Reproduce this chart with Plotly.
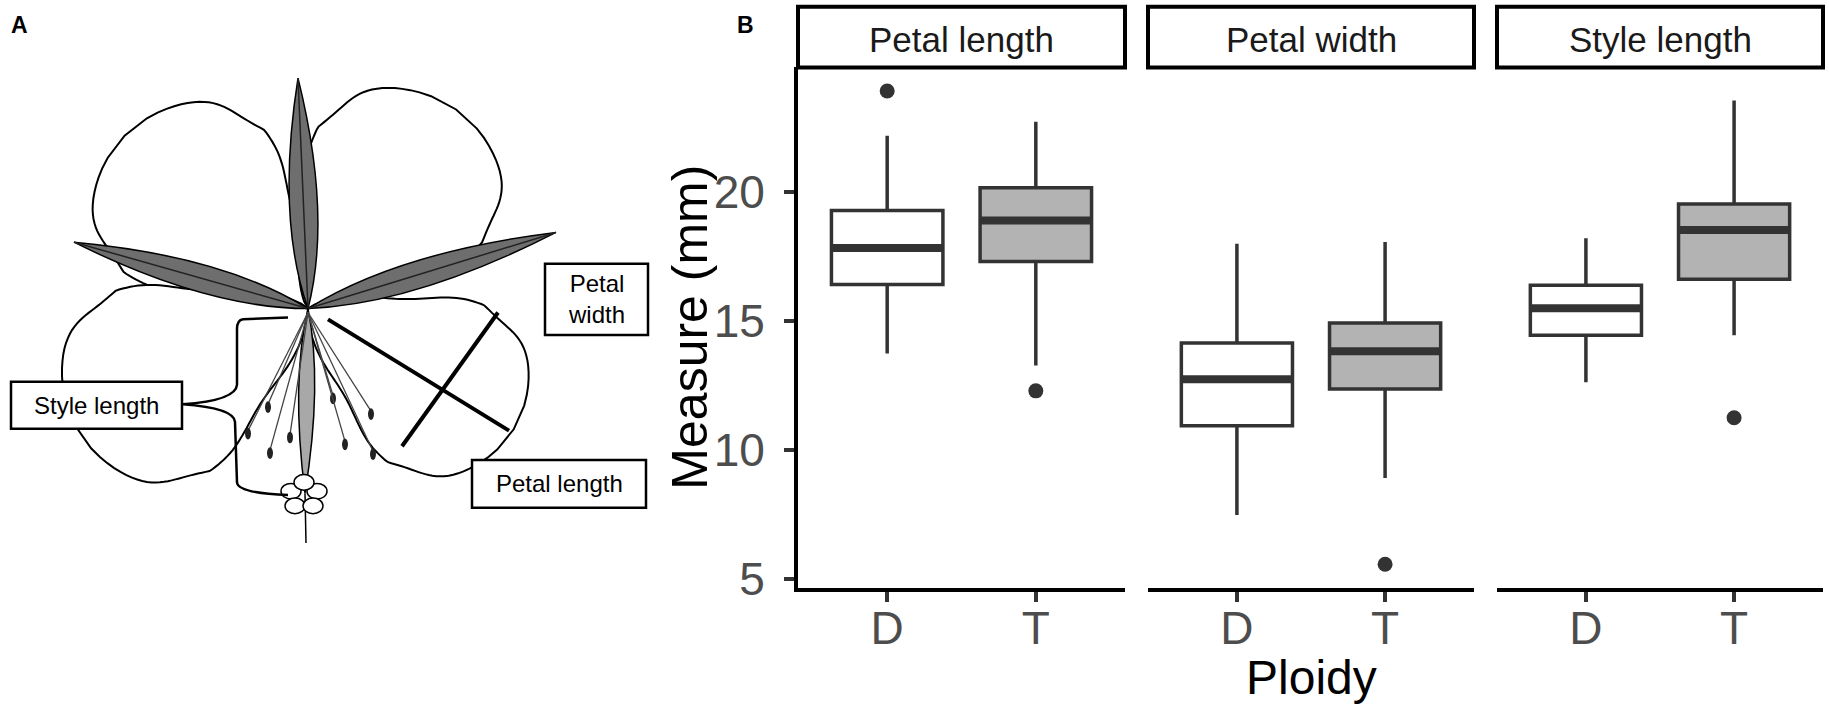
import numpy as np
import plotly.graph_objects as go

W, H = 1829, 725

traits = ["Petal length", "Petal width", "Style length"]
ploidy = ["D", "T"]

# box statistics per trait, [D, T]
lower_whisker = [[13.75, 13.28], [7.49, 8.92], [12.63, 14.45]]
q1 = [[16.42, 17.31], [10.95, 12.37], [14.45, 16.63]]
median = [[17.84, 18.90], [12.75, 13.83], [15.50, 18.53]]
q3 = [[19.29, 20.17], [14.15, 14.93], [16.39, 19.54]]
upper_whisker = [[22.19, 22.73], [18.00, 18.07], [18.21, 23.55]]

outlier_trait = ["Petal length", "Petal length", "Petal width", "Style length"]
outlier_ploidy = ["D", "T", "T", "T"]
outlier_value = [23.92, 12.30, 5.58, 11.26]

y_ticks = [5, 10, 15, 20]

box_fill = {"D": "white", "T": "#B3B3B3"}
dark = "#333333"
font = "Liberation Sans, Arial, sans-serif"

# panel B geometry in pixels
panel_px = [(798, 1125), (1148, 1474), (1497, 1823)]
plot_top, plot_bottom = 69, 602
strip_top = 7
box_w = 0.75


def px(x):
    return x / W


def py(y):
    return 1 - y / H


def note(x, y, text, size, color="black", ref=("paper", "paper"), **kw):
    return dict(x=x, y=y, xref=ref[0], yref=ref[1], text=text, showarrow=False,
                xanchor="center", yanchor="middle",
                font=dict(size=size, color=color, family=font), **kw)


fig = go.Figure()

all_vals = [v for grp in (lower_whisker, upper_whisker) for row in grp for v in row] + outlier_value
span = max(all_vals) - min(all_vals)
y_range = [min(all_vals) - 0.05 * span, max(all_vals) + 0.05 * span]

for i, trait in enumerate(traits):
    xa = "x" if i == 0 else f"x{i + 1}"
    for j, p in enumerate(ploidy):
        pos = j + 1
        fig.add_trace(go.Box(
            x=[pos], q1=[q1[i][j]], median=[median[i][j]], q3=[q3[i][j]],
            lowerfence=[lower_whisker[i][j]], upperfence=[upper_whisker[i][j]],
            width=box_w, fillcolor=box_fill[p], line=dict(color=dark, width=3.5),
            whiskerwidth=0, boxpoints=False, xaxis=xa, yaxis="y",
            showlegend=False, hoverinfo="skip",
        ))
        fig.add_trace(go.Scatter(
            x=[pos - box_w / 2, pos + box_w / 2], y=[median[i][j]] * 2,
            mode="lines", line=dict(color=dark, width=8),
            xaxis=xa, yaxis="y", showlegend=False, hoverinfo="skip",
        ))
    ox = [ploidy.index(p) + 1 for t, p in zip(outlier_trait, outlier_ploidy) if t == trait]
    oy = [v for t, v in zip(outlier_trait, outlier_value) if t == trait]
    fig.add_trace(go.Scatter(
        x=ox, y=oy, mode="markers", marker=dict(size=15, color=dark),
        xaxis=xa, yaxis="y", showlegend=False, hoverinfo="skip",
    ))

axis_common = dict(
    showline=True, linecolor="black", linewidth=4, ticks="outside",
    ticklen=10, tickwidth=3.5, tickcolor=dark, showgrid=False, zeroline=False,
    tickfont=dict(size=46, color="#4D4D4D", family=font), fixedrange=True,
)

layout_axes = {}
for i, (x0, x1) in enumerate(panel_px):
    key = "xaxis" if i == 0 else f"xaxis{i + 1}"
    layout_axes[key] = dict(
        domain=[px(x0), px(x1)], range=[0.4, 2.6], tickvals=[1, 2],
        ticktext=ploidy, anchor="y", ticklabelstandoff=-13, **axis_common,
    )
layout_axes["yaxis"] = dict(
    domain=[py(plot_bottom), py(plot_top)], range=y_range, tickvals=y_ticks,
    anchor="x", ticklabelstandoff=10, **axis_common,
)
# hidden pixel axes for the drawing in panel A
layout_axes["xaxis4"] = dict(domain=[0, 740 / W], range=[0, 740], visible=False, fixedrange=True)
layout_axes["yaxis4"] = dict(domain=[0, 1], range=[H, 0], visible=False, fixedrange=True, anchor="x4")

shapes = []
annotations = []

# facet strips
for (x0, x1), trait in zip(panel_px, traits):
    shapes.append(dict(type="rect", xref="paper", yref="paper",
                       x0=px(x0), x1=px(x1), y0=py(plot_top), y1=py(strip_top),
                       line=dict(color="black", width=4), fillcolor="white"))
    annotations.append(note(px((x0 + x1) / 2), py(40), trait, 35, "#1A1A1A"))

annotations.append(note(px(690), py((plot_top + plot_bottom) / 2), "Measure (mm)", 50, textangle=-90))
annotations.append(note(px(sum(panel_px[1]) / 2), py(694), "Ploidy", 48))
for lab, lx in (("A", 19), ("B", 745)):
    annotations.append(note(px(lx), py(26), f"<b>{lab}</b>", 23))

# ---- panel A: simple line drawing of the flower ----
cx, cy = 308, 316


def petal_path(ang, length, width, lobes=5):
    a = np.radians(ang)
    ca, sa = np.cos(a), np.sin(a)
    u = np.linspace(0, 1, 70)
    prof = np.where(u < 0.62, (u / 0.62) ** 0.7,
                    np.sqrt(np.clip(1 - ((u - 0.62) / 0.38) ** 2, 0, 1)))
    half = width / 2 * prof * (1 + 0.04 * np.sin(u * np.pi * lobes))
    us = np.concatenate([u, u[::-1]]) * length
    vs = np.concatenate([half, -half[::-1]])
    xs = cx + us * ca - vs * sa
    ys = cy + us * sa + vs * ca
    return "M " + " L ".join(f"{a_:.1f},{b_:.1f}" for a_, b_ in zip(xs, ys)) + " Z"


def sepal_path(tx, ty, width, bx=cx, by=cy):
    dx, dy = tx - bx, ty - by
    L = np.hypot(dx, dy)
    nx, ny = -dy / L, dx / L
    c1 = (bx + 0.4 * dx + nx * width, by + 0.4 * dy + ny * width)
    c2 = (bx + 0.4 * dx - nx * width, by + 0.4 * dy - ny * width)
    return (f"M {bx},{by} Q {c1[0]:.1f},{c1[1]:.1f} {tx},{ty} "
            f"Q {c2[0]:.1f},{c2[1]:.1f} {bx},{by} Z")


for ang, length, width in ((-136, 255, 205), (-54, 252, 205), (153, 262, 210), (31, 240, 190)):
    shapes.append(dict(type="path", xref="x4", yref="y4", path=petal_path(ang, length, width),
                       fillcolor="white", line=dict(color="black", width=2)))

for tx, ty, w in ((298, 80, 28), (74, 248, 28), (556, 238, 28)):
    shapes.append(dict(type="path", xref="x4", yref="y4", path=sepal_path(tx, ty, w),
                       fillcolor="#6E6E6E", line=dict(color="black", width=1.5)))
    shapes.append(dict(type="line", xref="x4", yref="y4", x0=cx, y0=cy, x1=tx, y1=ty,
                       line=dict(color="#222222", width=1.5)))

# central column down to the small flower
shapes.append(dict(type="path", xref="x4", yref="y4", path=sepal_path(305, 505, 16),
                   fillcolor="#A8A8A8", line=dict(color="black", width=1.5)))

# stamens with anthers
for ax_, ay_ in ((248, 441), (268, 414), (270, 461), (290, 445), (333, 405), (345, 452), (371, 421), (373, 462)):
    shapes.append(dict(type="line", xref="x4", yref="y4", x0=cx, y0=cy + 4, x1=ax_, y1=ay_,
                       line=dict(color="#444444", width=1.3)))
    shapes.append(dict(type="circle", xref="x4", yref="y4", x0=ax_ - 3, x1=ax_ + 3,
                       y0=ay_ - 3, y1=ay_ + 9, fillcolor="#222222", line=dict(width=0)))

# small flower and stem at the bottom
shapes.append(dict(type="line", xref="x4", yref="y4", x0=305, y0=505, x1=306, y1=556,
                   line=dict(color="black", width=1.5)))
for ox_, oy_ in ((-13, -5), (13, -5), (-9, 10), (9, 10), (0, -14)):
    shapes.append(dict(type="circle", xref="x4", yref="y4", x0=304 + ox_ - 10, x1=304 + ox_ + 10,
                       y0=508 + oy_ - 8, y1=508 + oy_ + 8, fillcolor="white",
                       line=dict(color="black", width=1.5)))

# measurement lines
shapes.append(dict(type="line", xref="x4", yref="y4", x0=328, y0=327, x1=509, y1=441,
                   line=dict(color="black", width=4)))
shapes.append(dict(type="line", xref="x4", yref="y4", x0=498, y0=320, x1=402, y1=457,
                   line=dict(color="black", width=4)))
shapes.append(dict(type="path", xref="x4", yref="y4",
                   path="M 288,325 L 243,327 Q 237,328 237,337 L 237,394 Q 236,410 183,414 "
                        "Q 234,418 235,432 L 237,494 Q 238,505 288,507",
                   line=dict(color="black", width=2.5)))

# label boxes
for text, (x0, y0, x1, y1) in (("Petal<br>width", (545, 270, 648, 343)),
                               ("Style length", (11, 391, 182, 439)),
                               ("Petal length", (472, 471, 646, 520))):
    shapes.append(dict(type="rect", xref="x4", yref="y4", x0=x0, y0=y0, x1=x1, y1=y1,
                       fillcolor="white", line=dict(color="black", width=2.5)))
    annotations.append(note((x0 + x1) / 2, (y0 + y1) / 2, text, 24, ref=("x4", "y4")))

fig.update_layout(
    width=W, height=H,
    margin=dict(l=0, r=0, t=0, b=0),
    paper_bgcolor="white", plot_bgcolor="white",
    shapes=shapes, annotations=annotations,
    showlegend=False,
    **layout_axes,
)

# drop the browser's default page margin so the figure sits at the window corner
fig.write_html("out.html", config={"displayModeBar": False},
               post_script="document.body.style.margin = '0';")
